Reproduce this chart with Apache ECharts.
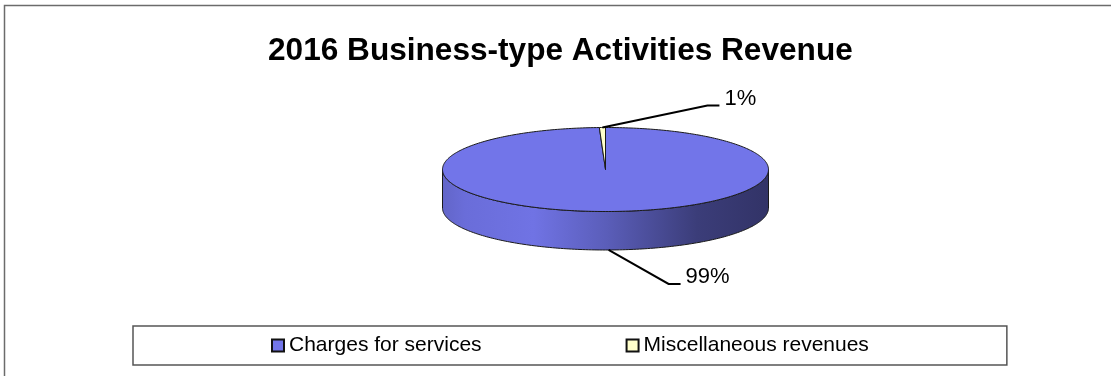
<!DOCTYPE html>
<html>
<head>
<meta charset="utf-8">
<script src="https://cdn.jsdelivr.net/npm/echarts@6/dist/echarts.min.js"></script>
<style>
  html, body { margin: 0; padding: 0; background: #fff; }
  #main { width: 1111px; height: 376px; }
</style>
</head>
<body>
<div id="main"></div>
<script>
// data (share of revenue in %)
var categories = ["Charges for services", "Miscellaneous revenues"];
var values = [99.4, 0.6];
var sliceColors = ["#7275E9", "#FFFFCC"];

var total = values.reduce(function (a, b) { return a + b; }, 0);

// pie geometry (3d look: flattened ellipse + front wall)
var cx = 605.5, cy = 169.5, rx = 163, ry = 42, depth = 38.5;
// leader line elbow offsets per label
var leaderOffsets = [[60, 34], [105, -22]];

function pt(t, dy) {
  return [cx + rx * Math.sin(t), cy - ry * Math.cos(t) + (dy || 0)];
}
function arcPts(a0, a1, dy) {
  var n = Math.max(2, Math.ceil(Math.abs(a1 - a0) / (Math.PI / 180)));
  var out = [];
  for (var i = 0; i <= n; i++) out.push(pt(a0 + (a1 - a0) * i / n, dy));
  return out;
}
function startAngle(idx) {
  var s = 0;
  for (var i = 0; i < idx; i++) s += values[i];
  return s / total * Math.PI * 2;
}
// multiply rgb by k (k < 1 darkens)
function shade(color, k) {
  var c = echarts.color.parse(color);
  return 'rgb(' + Math.round(c[0] * k) + ',' + Math.round(c[1] * k) + ',' + Math.round(c[2] * k) + ')';
}

function renderSlice(params, api) {
  var idx = params.seriesIndex;
  var v = api.value(0);
  var color = sliceColors[idx];
  var a0 = startAngle(idx);
  var a1 = a0 + v / total * Math.PI * 2;
  var children = [];

  // front wall (only the part facing us)
  var s = Math.max(a0, Math.PI / 2), e = Math.min(a1, Math.PI * 1.5);
  if (e > s) {
    children.push({
      type: 'polygon',
      shape: { points: arcPts(s, e, 0).concat(arcPts(e, s, depth)) },
      style: {
        fill: new echarts.graphic.LinearGradient(0, 0, 1, 0, [
          { offset: 0, color: shade(color, 0.86) },
          { offset: 0.07, color: shade(color, 0.93) },
          { offset: 0.28, color: shade(color, 0.98) },
          { offset: 0.5, color: shade(color, 0.8) },
          { offset: 0.78, color: shade(color, 0.52) },
          { offset: 1, color: shade(color, 0.44) }
        ]),
        stroke: '#1a1a1a',
        lineWidth: 1
      }
    });
  }

  // top face
  children.push({
    type: 'polygon',
    shape: { points: [[cx, cy]].concat(arcPts(a0, a1, 0)) },
    style: { fill: color, stroke: '#1a1a1a', lineWidth: 1 }
  });

  // label with leader line
  var m = (a0 + a1) / 2;
  var anchor = Math.cos(m) < 0 ? pt(m, depth) : pt(m, 0);
  var off = leaderOffsets[idx];
  var elbow = [anchor[0] + off[0], anchor[1] + off[1]];
  var end = [elbow[0] + 12, elbow[1]];
  children.push({
    type: 'polyline',
    shape: { points: [anchor, elbow, end] },
    style: { fill: null, stroke: '#000', lineWidth: 2 }
  });
  children.push({
    type: 'text',
    x: end[0] + 5,
    y: end[1] - 7,
    style: {
      text: Math.round(v / total * 100) + '%',
      font: '22px "Liberation Sans", Arial, sans-serif',
      fill: '#000',
      align: 'left',
      verticalAlign: 'middle'
    }
  });

  return { type: 'group', children: children };
}

var chart = echarts.init(document.getElementById('main'));
chart.setOption({
  animation: false,
  title: {
    text: '2016 Business-type Activities Revenue',
    left: 263,
    top: 30,
    textStyle: { fontFamily: 'Liberation Sans', fontSize: 31.6, fontWeight: 'bold', color: '#000' }
  },
  legend: {
    data: categories,
    left: 133,
    top: 326,
    padding: [9, 138],
    itemGap: 144,
    itemWidth: 12,
    itemHeight: 12,
    icon: 'rect',
    borderColor: '#555',
    borderWidth: 1.5,
    itemStyle: { borderColor: '#111', borderWidth: 2 },
    textStyle: { fontFamily: 'Liberation Sans', fontSize: 21, color: '#000' }
  },
  graphic: [{
    type: 'rect',
    silent: true,
    z: -1,
    shape: { x: 4.5, y: 5.5, width: 1200, height: 500 },
    style: { fill: null, stroke: '#6b6b6b', lineWidth: 1.5 }
  }],
  series: categories.map(function (name, i) {
    return {
      type: 'custom',
      name: name,
      coordinateSystem: 'none',
      renderItem: renderSlice,
      itemStyle: { color: sliceColors[i] },
      silent: true,
      data: [[values[i]]]
    };
  })
});
</script>
</body>
</html>
